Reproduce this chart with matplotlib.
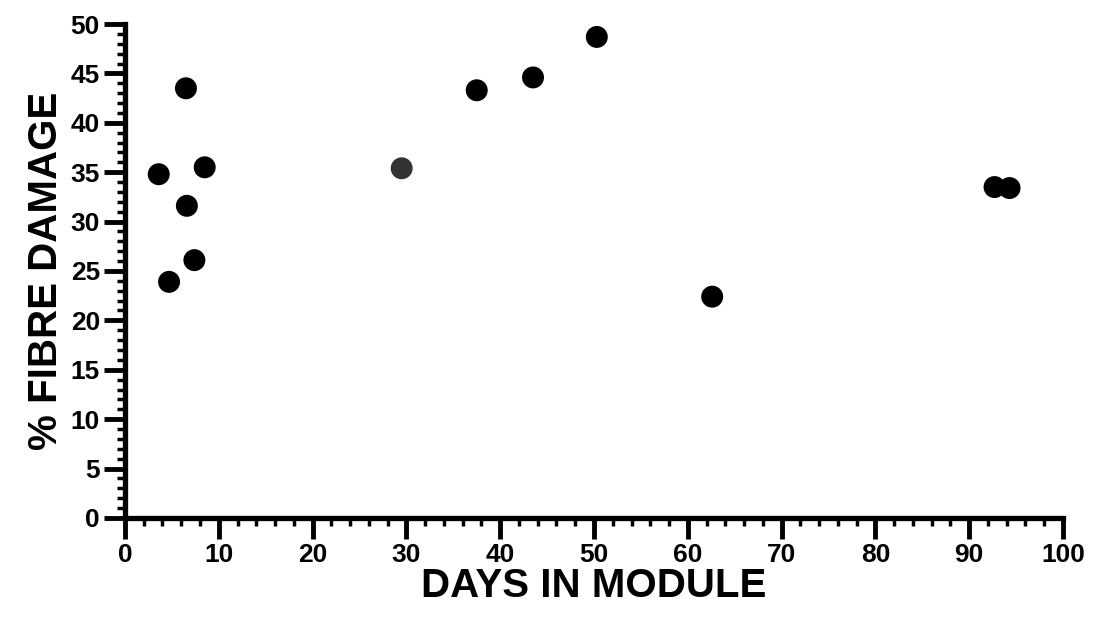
import numpy as np
import matplotlib
matplotlib.use('Agg')
from matplotlib import pyplot as plt
from matplotlib.ticker import MultipleLocator

# days in module vs % fibre damage
days = [3.6, 4.7, 6.5, 6.6, 7.4, 8.5, 29.5, 37.5, 43.5, 50.3, 62.6, 92.7, 94.3]
damage = [34.8, 23.9, 43.5, 31.6, 26.1, 35.5, 35.4, 43.3, 44.6, 48.7, 22.4, 33.5, 33.4]
point_colors = ['black'] * 6 + ['#333333'] + ['black'] * 6

plt.rcParams['font.family'] = ['Liberation Sans', 'DejaVu Sans']
plt.rcParams['font.weight'] = 'bold'

fig = plt.figure(figsize=(11.01, 6.18), dpi=100)
ax = fig.add_axes([0.1135, 0.162, 0.852, 0.799])

ax.scatter(days, damage, s=250, c=point_colors, edgecolors='none', zorder=3, clip_on=False)

ax.set_xlim(0, 100)
ax.set_ylim(0, 50)
ax.xaxis.set_major_locator(MultipleLocator(10))
ax.xaxis.set_minor_locator(MultipleLocator(2))
ax.yaxis.set_major_locator(MultipleLocator(5))
ax.yaxis.set_minor_locator(MultipleLocator(1))

for s in ['top', 'right']:
    ax.spines[s].set_visible(False)
for s in ['left', 'bottom']:
    ax.spines[s].set_linewidth(3.8)
    ax.spines[s].set_capstyle('projecting')

ax.tick_params(which='major', direction='out', length=15, width=3.5, labelsize=19, pad=3)
ax.tick_params(which='minor', direction='out', length=6, width=2.5)
for lab in ax.get_xticklabels() + ax.get_yticklabels():
    lab.set_fontweight('bold')

ax.set_xlabel('DAYS IN MODULE', fontsize=29, fontweight='bold', labelpad=0)
ax.set_ylabel('% FIBRE DAMAGE', fontsize=29, fontweight='bold', labelpad=4)

fig.savefig('out.png', dpi=100)
